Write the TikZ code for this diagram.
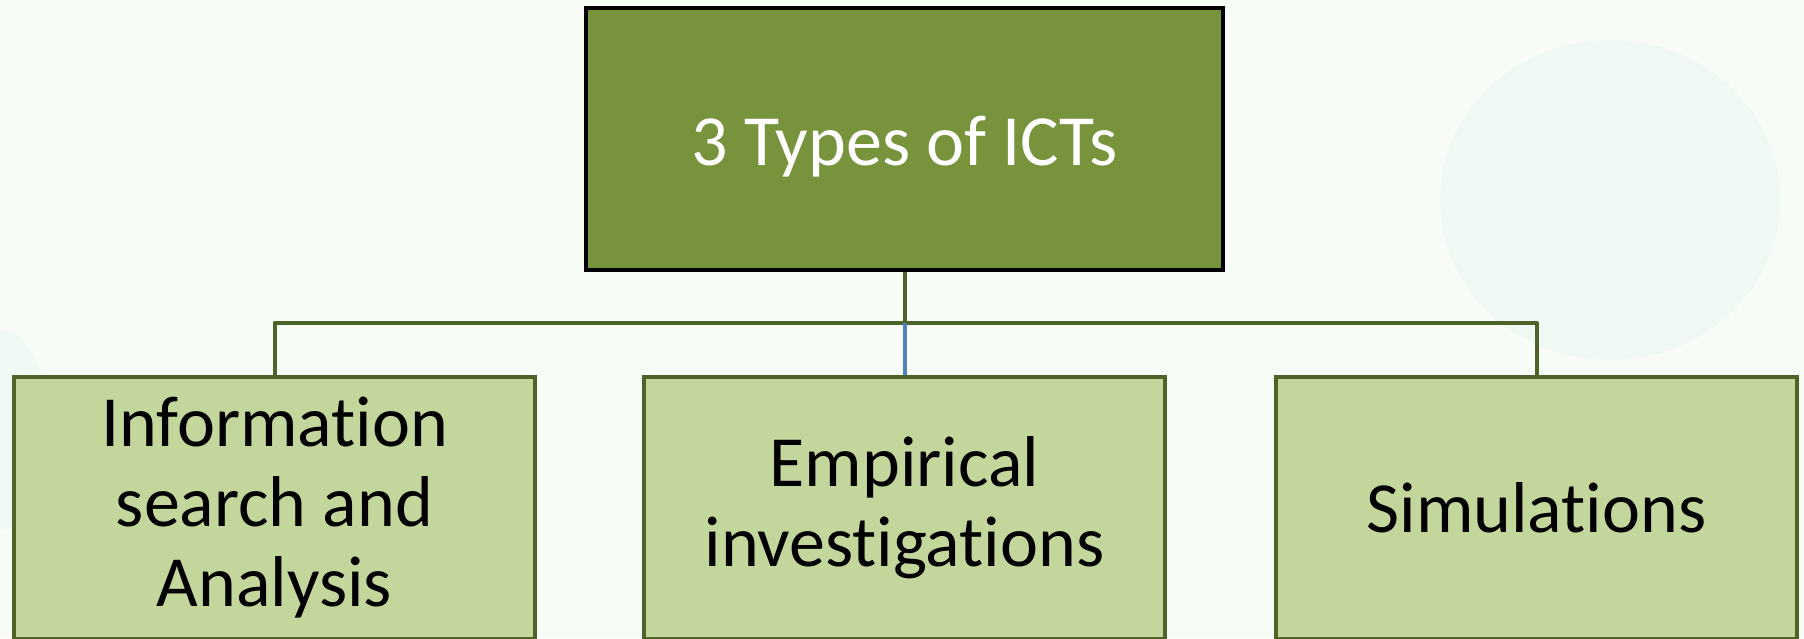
\documentclass[tikz,border=0pt]{standalone}
\usepackage{fontspec}
\setmainfont[Ligatures={NoCommon}]{Carlito}
\definecolor{bgc}{HTML}{F7FCF6}
\definecolor{blobc}{HTML}{E8F5F2}
\definecolor{topfill}{HTML}{77933C}
\definecolor{childfill}{HTML}{C3D69B}
\definecolor{childline}{HTML}{4F6228}
\definecolor{bluelink}{HTML}{4F81BD}
\tikzset{
  topbox/.style={draw=black, line width=4pt, fill=topfill, text=white,
    minimum width=637pt, minimum height=262pt, inner sep=0pt, align=center,
    font=\fontsize{72}{80}\selectfont},
  childbox/.style={draw=childline, line width=4pt, fill=childfill, text=black,
    minimum width=521pt, minimum height=262pt, inner sep=0pt, align=center,
    font=\fontsize{72}{80}\selectfont},
  link/.style={draw=childline, line width=4pt},
  bluelinkst/.style={draw=bluelink, line width=4pt}
}
\begin{document}
\begin{tikzpicture}[x=1pt,y=-1pt]
\useasboundingbox (0,0) rectangle (1804,638);
\clip (0,0) rectangle (1804,638);
\fill[bgc] (0,0) rectangle (1804,638);
\fill[blobc, opacity=0.45] (1610,200) ellipse (170 and 160);
\fill[blobc, opacity=0.4] (0,430) ellipse (50 and 100);
\node[topbox] (top) at (904.5,139) {};
\node[text=white, font=\fontsize{72}{80}\selectfont] (toptext) at (904.5,147) {3 Types of ICTs};
\node[childbox] (a) at (274.5,508) {Information\\search and\\Analysis};
\node[childbox] (b) at (904.5,508) {Empirical\\investigations};
\node[childbox] (c) at (1536.5,508) {Simulations};
\coordinate (j) at (904.5,323);
\draw[link] (top.south) -- (j);
\draw[link, line join=round] (j) -| (a.north);
\draw[link, line join=round] (j) -| (c.north);
\draw[bluelinkst] (j) -- (b.north);
\end{tikzpicture}
\end{document}
